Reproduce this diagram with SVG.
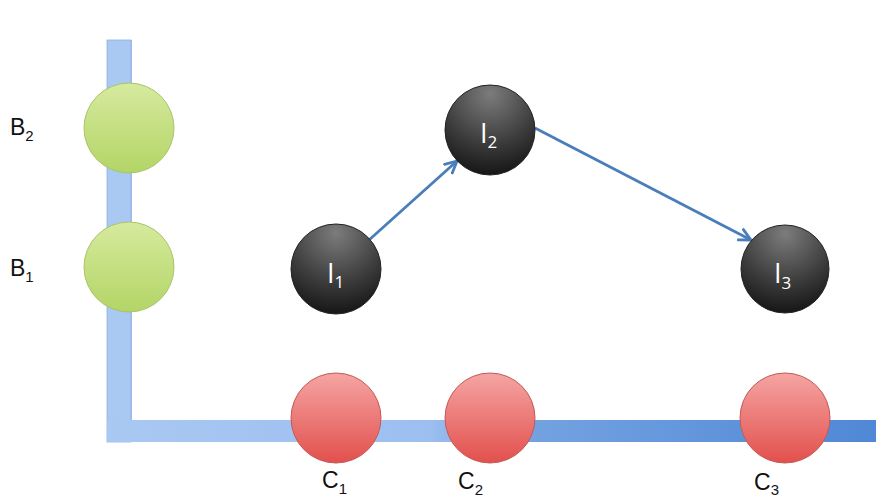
<svg xmlns="http://www.w3.org/2000/svg" width="876" height="499" viewBox="0 0 876 499">
<style>
.lbl{font-family:"Liberation Sans",Arial,sans-serif;font-size:23px;fill:#111}
.sub{font-size:15px}
.in{font-family:"Open Sans","Liberation Sans",sans-serif;font-size:27px;fill:#fff}
.ins{font-size:17px}
.g{fill:url(#gG);stroke:#a9c46a;stroke-width:1}
.d{fill:url(#gD);stroke:#222;stroke-width:1}
.r{fill:url(#gR);stroke:#c25a57;stroke-width:1}
.conn{fill:none;stroke:#4a7ebb;stroke-width:2.8;marker-end:url(#ah)}
</style>
<defs>
<linearGradient id="gG" x1="0" y1="0" x2="0" y2="1">
<stop offset="0" stop-color="#d6ea9e"/><stop offset="1" stop-color="#b3d566"/>
</linearGradient>
<radialGradient id="gD" cx="0.5" cy="0.1" r="0.95">
<stop offset="0" stop-color="#7c7c7c"/><stop offset="0.6" stop-color="#3a3a3a"/><stop offset="1" stop-color="#111"/>
</radialGradient>
<linearGradient id="gR" x1="0" y1="0" x2="0" y2="1">
<stop offset="0" stop-color="#f5a5a3"/><stop offset="1" stop-color="#e2504d"/>
</linearGradient>
<linearGradient id="gH" x1="107" y1="0" x2="876" y2="0" gradientUnits="userSpaceOnUse">
<stop offset="0" stop-color="#a9c8f2"/><stop offset="0.42" stop-color="#9cbff0"/><stop offset="0.5" stop-color="#78a5e2"/><stop offset="1" stop-color="#4f88d6"/>
</linearGradient>
<marker id="ah" viewBox="0 0 12 12" refX="10" refY="6" markerWidth="5.5" markerHeight="5.5" orient="auto" markerUnits="strokeWidth">
<path d="M1,1.5 L10,6 L1,10.5" fill="none" stroke="#4a7ebb" stroke-width="2.2" stroke-linejoin="round" stroke-linecap="round"/>
</marker>
</defs>
<g id="axes">
<rect x="107" y="40" width="24" height="402" fill="#a9c8f2" stroke="#8fb1e2" stroke-width="0.8"/>
<rect x="107" y="420" width="769" height="22" fill="url(#gH)"/>
<rect x="131" y="40" width="0.8" height="380" fill="#8fb1e2"/>
</g>
<g id="connectors">
<line class="conn" x1="369" y1="240" x2="457" y2="161"/>
<line class="conn" x1="535" y1="128" x2="751" y2="240"/>
</g>
<g id="B2"><circle class="g" cx="129" cy="128" r="45"/><text class="lbl" x="10" y="135">B<tspan class="sub" dy="6">2</tspan></text></g>
<g id="B1"><circle class="g" cx="129" cy="267" r="45"/><text class="lbl" x="10" y="276">B<tspan class="sub" dy="6">1</tspan></text></g>
<g id="I1"><circle class="d" cx="336" cy="269" r="45"/><text class="in" x="327" y="283">I<tspan class="ins" dy="5">1</tspan></text></g>
<g id="I2"><circle class="d" cx="490" cy="130" r="45"/><text class="in" x="480" y="143">I<tspan class="ins" dy="5">2</tspan></text></g>
<g id="I3"><circle class="d" cx="785" cy="269" r="44"/><text class="in" x="774" y="283">I<tspan class="ins" dy="6">3</tspan></text></g>
<g id="C1"><circle class="r" cx="336" cy="418" r="45"/><text class="lbl" x="322" y="488">C<tspan class="sub" dy="6">1</tspan></text></g>
<g id="C2"><circle class="r" cx="490" cy="418" r="45"/><text class="lbl" x="458" y="489">C<tspan class="sub" dy="6">2</tspan></text></g>
<g id="C3"><circle class="r" cx="785" cy="418" r="45"/><text class="lbl" x="754" y="490">C<tspan class="sub" dy="5">3</tspan></text></g>
</svg>
